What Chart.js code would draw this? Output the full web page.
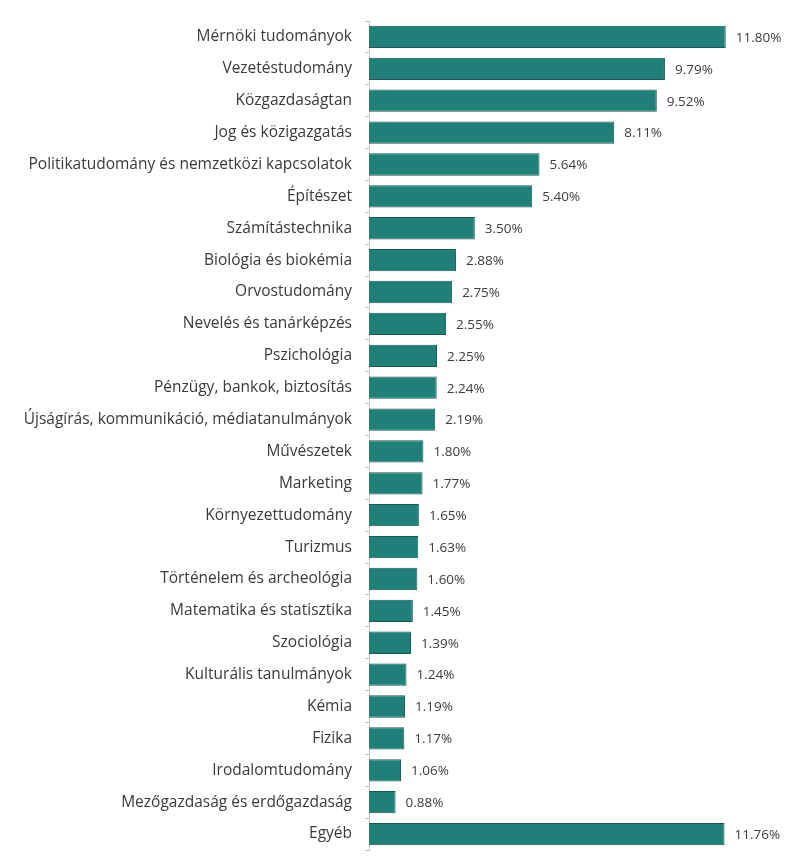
<!DOCTYPE html>
<html lang="hu">
<head>
<meta charset="UTF-8">
<title>Tudományterületek</title>
<script src="https://cdn.jsdelivr.net/npm/chart.js"></script>
<style>
    body { margin: 0; background: #ffffff; }
    #wrap { width: 795px; height: 861px; }
</style>
</head>
<body>
<div id="wrap"><canvas id="chart"></canvas></div>
<script>
    const categories = [
        'Mérnöki tudományok',
        'Vezetéstudomány',
        'Közgazdaságtan',
        'Jog és közigazgatás',
        'Politikatudomány és nemzetközi kapcsolatok',
        'Építészet',
        'Számítástechnika',
        'Biológia és biokémia',
        'Orvostudomány',
        'Nevelés és tanárképzés',
        'Pszichológia',
        'Pénzügy, bankok, biztosítás',
        'Újságírás, kommunikáció, médiatanulmányok',
        'Művészetek',
        'Marketing',
        'Környezettudomány',
        'Turizmus',
        'Történelem és archeológia',
        'Matematika és statisztika',
        'Szociológia',
        'Kulturális tanulmányok',
        'Kémia',
        'Fizika',
        'Irodalomtudomány',
        'Mezőgazdaság és erdőgazdaság',
        'Egyéb'
    ];
    const shares = [11.80, 9.79, 9.52, 8.11, 5.64, 5.40, 3.50, 2.88, 2.75, 2.55, 2.25, 2.24, 2.19,
        1.80, 1.77, 1.65, 1.63, 1.60, 1.45, 1.39, 1.24, 1.19, 1.17, 1.06, 0.88, 11.76];

    const valueFont = "13.5px 'Open Sans', sans-serif";

    // percentage text after each bar
    const valueLabels = {
        id: 'valueLabels',
        afterDatasetsDraw(chart) {
            const ctx = chart.ctx;
            const meta = chart.getDatasetMeta(0);
            ctx.save();
            ctx.font = valueFont;
            ctx.fillStyle = '#3c3c3c';
            ctx.textBaseline = 'middle';
            meta.data.forEach((bar, i) => {
                ctx.fillText(shares[i].toFixed(2) + '%', bar.x + 10, bar.y + 1);
            });
            ctx.restore();
        }
    };

    new Chart(document.getElementById('chart'), {
        type: 'bar',
        data: {
            labels: categories,
            datasets: [{
                data: shares,
                backgroundColor: '#1f8078',
                borderColor: '#1a5a55',
                borderWidth: 1,
                barPercentage: 0.7,
                categoryPercentage: 1
            }]
        },
        options: {
            indexAxis: 'y',
            responsive: true,
            maintainAspectRatio: false,
            animation: false,
            layout: { padding: { top: 21, bottom: 11, right: 33, left: 0 } },
            plugins: {
                legend: { display: false },
                tooltip: { enabled: false }
            },
            scales: {
                x: {
                    display: false,
                    min: 0,
                    max: 13
                },
                y: {
                    afterFit(scale) {
                        scale.width = 369;
                        // labels sit inside the bands, no extra room needed at the ends
                        scale.paddingTop = 0;
                        scale.paddingBottom = 0;
                    },
                    border: { color: '#c8c8c8', width: 1 },
                    grid: {
                        offset: true,
                        drawOnChartArea: false,
                        tickLength: 4,
                        color: '#d8b8c8'
                    },
                    ticks: {
                        color: '#3a3a3a',
                        font: { family: "'Open Sans', sans-serif", size: 15.5 },
                        padding: 13,
                        autoSkip: false
                    }
                }
            }
        },
        plugins: [valueLabels]
    });
</script>
</body>
</html>
